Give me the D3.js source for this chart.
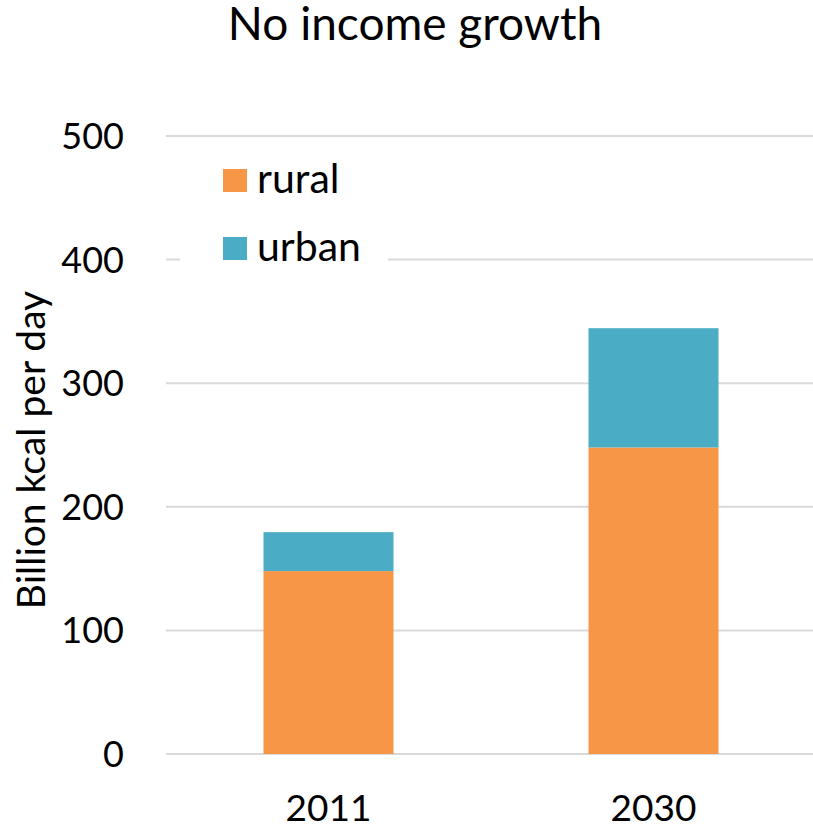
<!DOCTYPE html>
<html>
<head>
<meta charset="utf-8">
<script src="https://cdn.jsdelivr.net/npm/d3@7"></script>
<style>
  body { margin: 0; background: #fff; }
  text { font-family: Lato, "Open Sans", sans-serif; fill: #000; }
</style>
</head>
<body>
<svg id="chart" width="813" height="826"></svg>
<script>
// Food energy demand, billion kcal per day
const years = ["2011", "2030"];
const rural = [148, 248];
const urban = [31.5, 96.5];
const yTicks = [0, 100, 200, 300, 400, 500];
const seriesNames = ["rural", "urban"];
const seriesColors = ["#F79646", "#4BACC6"];

const svg = d3.select("#chart");
const plot = { left: 166, right: 816, top: 136, bottom: 754 };

const x = d3.scaleBand().domain(years).range([plot.left, plot.right]).paddingInner(0.6).paddingOuter(0.3);
const y = d3.scaleLinear().domain([0, 500]).range([plot.bottom, plot.top]);

const rows = years.map((yr, i) => ({ year: yr, rural: rural[i], urban: urban[i] }));
const stacked = d3.stack().keys(seriesNames)(rows);

// gridlines
svg.append("g").selectAll("line").data(yTicks).join("line")
  .attr("x1", plot.left).attr("x2", 813)
  .attr("y1", d => y(d)).attr("y2", d => y(d))
  .attr("stroke", "#d9d9d9").attr("stroke-width", 2);

// y tick labels
svg.append("g").selectAll("text").data(yTicks).join("text")
  .attr("x", 124).attr("y", d => y(d)).attr("dy", "0.36em")
  .attr("text-anchor", "end").attr("font-size", 36)
  .text(d => d);

// x labels
svg.append("g").selectAll("text").data(years).join("text")
  .attr("x", d => x(d) + x.bandwidth() / 2).attr("y", 821)
  .attr("text-anchor", "middle").attr("font-size", 37)
  .text(d => d);

// stacked bars
svg.append("g").selectAll("g").data(stacked).join("g")
  .attr("fill", (d, i) => seriesColors[i])
  .selectAll("rect").data(d => d).join("rect")
  .attr("x", d => x(d.data.year))
  .attr("width", x.bandwidth())
  .attr("y", d => y(d[1]))
  .attr("height", d => y(d[0]) - y(d[1]));

// legend
const legend = svg.append("g");
legend.append("rect").attr("x", 180).attr("y", 150).attr("width", 208).attr("height", 122).attr("fill", "#fff");
seriesNames.forEach((name, i) => {
  const cy = 180 + i * 68;
  legend.append("rect").attr("x", 223).attr("y", cy - 11).attr("width", 24).attr("height", 23)
    .attr("fill", seriesColors[i]);
  legend.append("text").attr("x", 257).attr("y", cy + 13)
    .attr("font-size", 41).text(name);
});

// axis title
svg.append("text")
  .attr("transform", "translate(45,450) rotate(-90)")
  .attr("text-anchor", "middle").attr("font-size", 39)
  .text("Billion kcal per day");

// chart title
svg.append("text")
  .attr("x", 415).attr("y", 40)
  .attr("text-anchor", "middle").attr("font-size", 46)
  .text("No income growth");
</script>
</body>
</html>
